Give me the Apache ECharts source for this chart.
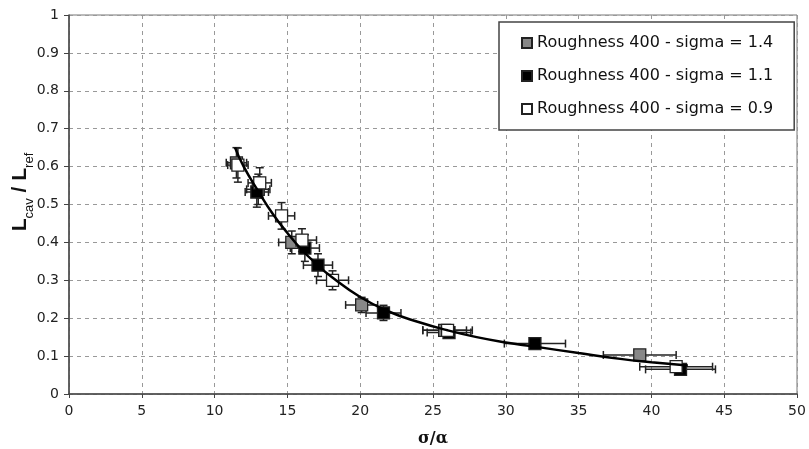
<!DOCTYPE html>
<html><head><meta charset="utf-8">
<script src="https://cdn.jsdelivr.net/npm/echarts@6/dist/echarts.min.js"></script>
<style>html,body{margin:0;padding:0;background:#fff}#c{width:809px;height:449px}</style>
</head><body><div id="c"></div>
<script>
// Series names
const seriesNames = ['Roughness 400 - sigma = 1.4', 'Roughness 400 - sigma = 1.1', 'Roughness 400 - sigma = 0.9'];
// Data points [sigma/alpha, Lcav/Lref]
const grayPts  = [[11.5,0.61],[13.0,0.54],[15.3,0.40],[20.1,0.235],[25.8,0.168],[39.2,0.103]];
const blackPts = [[12.9,0.533],[16.2,0.385],[17.1,0.34],[21.6,0.214],[26.1,0.162],[32.0,0.133],[42.0,0.065]];
const whitePts = [[11.6,0.604],[13.1,0.557],[14.6,0.47],[16.0,0.406],[18.1,0.30],[26.0,0.168],[41.7,0.072]];
// Error half-widths [xErr, yErr]
const grayErr  = [[0.7,0.04],[0.8,0.04],[0.9,0.03],[1.1,0.02],[1.5,0.012],[2.5,0.01]];
const blackErr = [[0.8,0.04],[1.0,0.035],[1.0,0.03],[1.2,0.02],[1.5,0.012],[2.1,0.01],[2.4,0.008]];
const whiteErr = [[0.7,0.045],[0.8,0.04],[0.9,0.035],[1.0,0.03],[1.1,0.025],[1.7,0.012],[2.5,0.008]];
// Fitted curve
const fitCurve = [[11.4,0.65],[12,0.6],[13,0.535],[14,0.475],[15,0.425],[16,0.38],[17,0.343],[18,0.31],[20,0.256],[22,0.217],[24,0.19],[26,0.168],[28,0.15],[30,0.136],[32,0.125],[35,0.108],[38,0.092],[40,0.084],[42.5,0.075]];
const xTicks = {min:0, max:50, interval:5};
const yTicks = {min:0, max:1, interval:0.1};

function errSeries(pts, errs){
  return {
    type:'custom', silent:true, z:3,
    data: pts.map((p,i)=>[p[0],p[1],errs[i][0],errs[i][1]]),
    renderItem:function(params, api){
      const x=api.value(0), y=api.value(1), ex=api.value(2), ey=api.value(3);
      const L=api.coord([x-ex,y]), R=api.coord([x+ex,y]), T=api.coord([x,y+ey]), B=api.coord([x,y-ey]);
      const st={stroke:'#222', lineWidth:1.5};
      const c=4;
      return {type:'group', children:[
        {type:'line', shape:{x1:L[0],y1:L[1],x2:R[0],y2:R[1]}, style:st},
        {type:'line', shape:{x1:L[0],y1:L[1]-c,x2:L[0],y2:L[1]+c}, style:st},
        {type:'line', shape:{x1:R[0],y1:R[1]-c,x2:R[0],y2:R[1]+c}, style:st},
        {type:'line', shape:{x1:T[0],y1:T[1],x2:B[0],y2:B[1]}, style:st},
        {type:'line', shape:{x1:T[0]-c,y1:T[1],x2:T[0]+c,y2:T[1]}, style:st},
        {type:'line', shape:{x1:B[0]-c,y1:B[1],x2:B[0]+c,y2:B[1]}, style:st}
      ]};
    }
  };
}
function scat(name, pts, fill){
  return {name:name, type:'scatter', data:pts, symbol:'rect', symbolSize:12, z:4,
    itemStyle:{color:fill, borderColor:'#222', borderWidth:1.3, opacity:1}};
}

const chart = echarts.init(document.getElementById('c'), null, {renderer:'canvas'});
chart.setOption({
  animation:false,
  backgroundColor:'#fff',
  grid:{left:69, right:12, top:15, bottom:55, containLabel:false, outerBoundsMode:'none',
    show:true, borderColor:'#777', borderWidth:1},
  graphic:[{
    type:'text', x:18, y:192, rotation:Math.PI/2, z:10,
    style:{
      text:'{b|L}{s|cav}{b| / L}{s|ref}', align:'center', verticalAlign:'middle',
      rich:{
        b:{fontFamily:'Liberation Sans, Arial', fontWeight:'bold', fontSize:21, fill:'#111', lineHeight:26, verticalAlign:'bottom'},
        s:{fontFamily:'Liberation Sans, Arial', fontSize:13, fill:'#111', lineHeight:26, verticalAlign:'bottom', padding:[0,0,-5,0]}
      }
    }
  }],
  legend:{
    data:seriesNames, orient:'vertical', left:499, top:22,
    backgroundColor:'#fff', borderColor:'#444', borderWidth:1.5, borderRadius:0,
    padding:[13,21,13,22], itemGap:17, itemWidth:10, itemHeight:10, icon:'rect',
    textStyle:{fontFamily:'DejaVu Sans', fontSize:16, color:'#111'}
  },
  xAxis:{type:'value', min:xTicks.min, max:xTicks.max, interval:xTicks.interval,
    name:'σ/α', nameLocation:'middle', nameGap:37,
    nameTextStyle:{fontFamily:'DejaVu Serif', fontWeight:'bold', fontSize:16, color:'#111'},
    axisLine:{lineStyle:{color:'#444', width:1.5}},
    axisTick:{show:true, length:4, lineStyle:{color:'#444'}},
    axisLabel:{fontFamily:'DejaVu Sans', fontSize:14, color:'#222', margin:10},
    splitLine:{show:true, lineStyle:{color:'#999', type:[4,4], width:1}}
  },
  yAxis:{type:'value', min:yTicks.min, max:yTicks.max, interval:yTicks.interval,
    axisLine:{show:true, lineStyle:{color:'#444', width:1.5}},
    axisTick:{show:true, length:5, lineStyle:{color:'#444'}},
    axisLabel:{fontFamily:'DejaVu Sans', fontSize:14, color:'#222', margin:10},
    splitLine:{show:true, lineStyle:{color:'#999', type:[4,4], width:1}}
  },
  series:[
    {name:'fit', type:'line', data:fitCurve, smooth:true, showSymbol:false, silent:true, z:5,
      lineStyle:{color:'#000', width:2.5}},
    errSeries(grayPts, grayErr),
    errSeries(blackPts, blackErr),
    errSeries(whitePts, whiteErr),
    scat(seriesNames[0], grayPts, '#888'),
    scat(seriesNames[1], blackPts, '#000'),
    scat(seriesNames[2], whitePts, '#fff')
  ]
});
</script></body></html>
